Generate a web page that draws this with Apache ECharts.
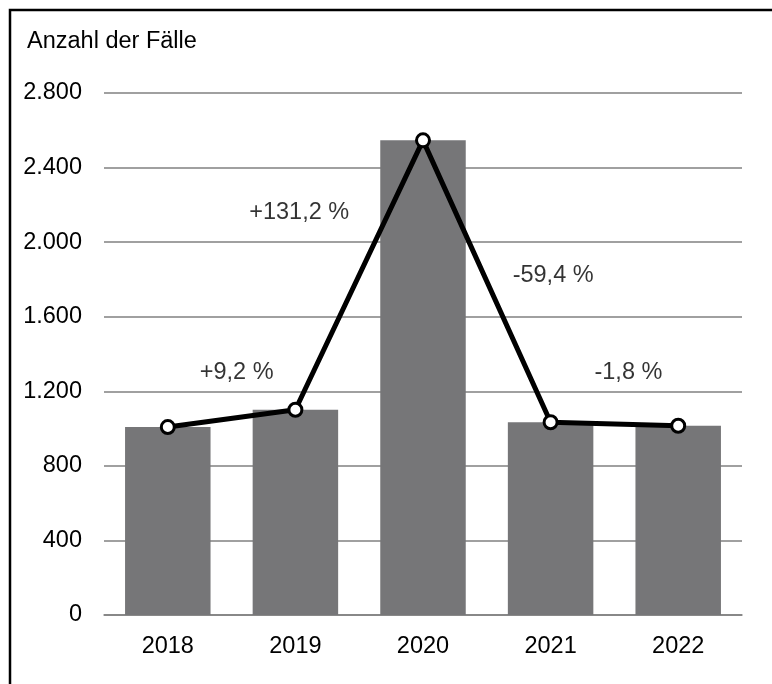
<!DOCTYPE html>
<html>
<head>
<meta charset="utf-8">
<script src="https://cdn.jsdelivr.net/npm/echarts@6/dist/echarts.min.js"></script>
<style>
html,body{margin:0;padding:0;background:#fff;}
#chart{width:772px;height:684px;}
</style>
</head>
<body>
<div id="chart"></div>
<script>
const years = ['2018', '2019', '2020', '2021', '2022'];
const cases = [1008, 1101, 2546, 1034, 1015];
const yTicks = [0, 400, 800, 1200, 1600, 2000, 2400, 2800];
const changeLabels = ['+9,2 %', '+131,2 %', '-59,4 %', '-1,8 %'];
const changeX = [0.54, 1.03, 3.02, 3.61];
const changeY = [1299, 2157, 1819, 1299];
const yTitle = 'Anzahl der Fälle';

const FONT = '"Liberation Sans", Arial, sans-serif';
const FS = 23.5;
const chart = echarts.init(document.getElementById('chart'), null, {renderer: 'canvas'});

function fmt(v) {
  return String(v).replace(/\B(?=(\d{3})+(?!\d))/g, '.');
}

chart.setOption({
  animation: false,
  backgroundColor: '#ffffff',
  textStyle: {fontFamily: FONT},
  graphic: [
    {type: 'rect', shape: {x: 10, y: 10, width: 800, height: 720},
     style: {fill: 'none', stroke: '#000', lineWidth: 2.5}, z: 100},
    {type: 'text', left: 27, top: 30,
     style: {text: yTitle, font: FS + 'px ' + FONT, fill: '#000'}}
  ],
  grid: {left: 104, right: 30, top: 93, bottom: 69},
  xAxis: [
    {type: 'category', data: years,
     axisLine: {show: true, lineStyle: {color: '#808080', width: 1.5}},
     axisTick: {show: false},
     axisLabel: {color: '#000', fontSize: FS, margin: 20, fontFamily: FONT}},
    {type: 'value', min: -0.5, max: 4.5, show: false}
  ],
  yAxis: {
    type: 'value', min: yTicks[0], max: yTicks[yTicks.length - 1], interval: 400,
    axisLine: {show: false}, axisTick: {show: false},
    axisLabel: {color: '#000', fontSize: FS, margin: 22, fontFamily: FONT, formatter: fmt},
    splitLine: {lineStyle: {color: '#808080', width: 1.5}}
  },
  series: [
    {type: 'bar', data: cases, barWidth: '67%',
     itemStyle: {color: '#767678'}, z: 2},
    {type: 'line', data: cases, symbol: 'circle', symbolSize: 13,
     lineStyle: {color: '#000', width: 5},
     itemStyle: {color: '#fff', borderColor: '#000', borderWidth: 3}, z: 5},
    {type: 'scatter', xAxisIndex: 1, symbolSize: 1,
     itemStyle: {color: 'rgba(0,0,0,0)'},
     data: changeLabels.map((t, i) => ({value: [changeX[i], changeY[i]], name: t})),
     label: {show: true, position: 'inside', formatter: p => p.name,
       color: '#000', textBorderWidth: 0, fontSize: FS, fontFamily: FONT}, z: 6}
  ]
});
</script>
</body>
</html>
